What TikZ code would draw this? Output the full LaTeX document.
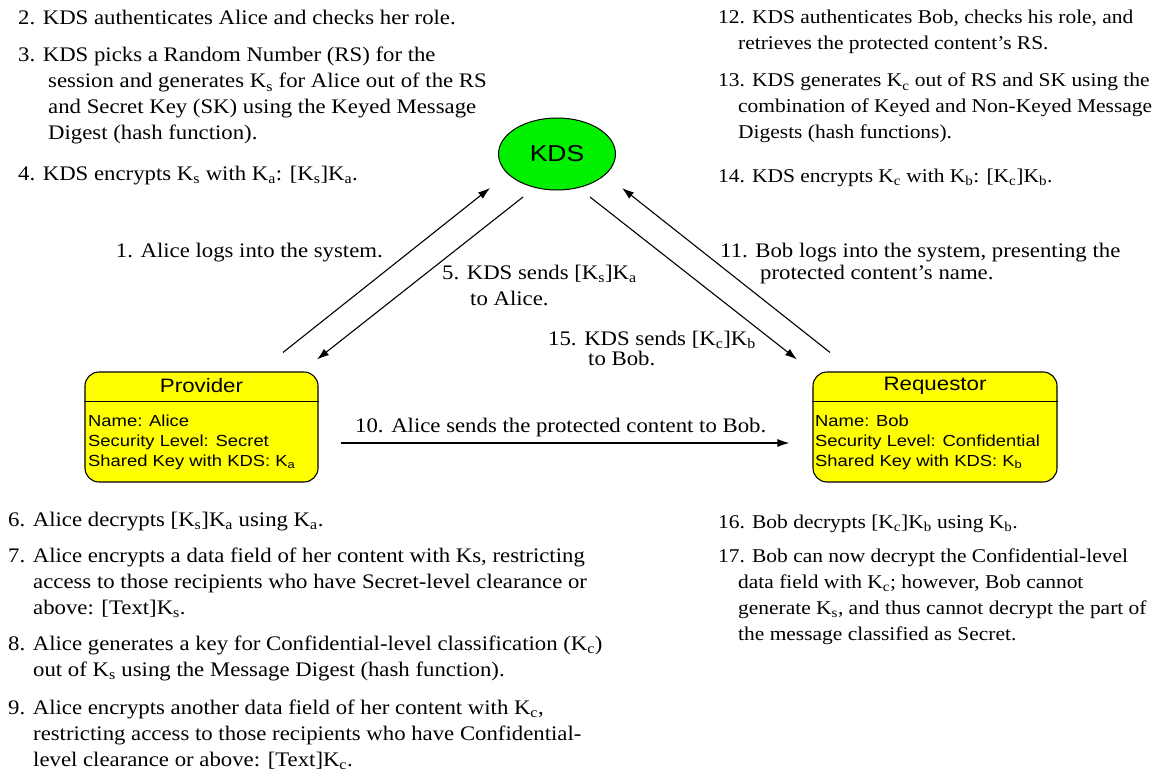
\documentclass[tikz,border=0pt]{standalone}
\usepackage{fontspec}
\setmainfont{Liberation Serif}[FakeStretch=1.1]
\newfontfamily\boxfont{Liberation Sans}[FakeStretch=1.15]
\usetikzlibrary{arrows.meta,shapes.geometric,calc}
\definecolor{kdsgreen}{RGB}{0,240,0}
\definecolor{partyyellow}{RGB}{255,255,0}
\newcommand{\keyof}[1]{K\textsubscript{#1}}
\newcommand{\lines}[1]{\begin{tabular}[t]{@{}l@{}}#1\end{tabular}}
\begin{document}
\begin{tikzpicture}[x=1pt,y=-1pt,
  note/.style={anchor=base west, inner sep=0pt, font=\fontsize{20.7}{26}\selectfont},
  rnote/.style={note, font=\fontsize{19.5}{26}\selectfont},
  conn/.style={line width=1.1pt, -{Latex[length=12pt,width=8pt]}},
  kdsnode/.style={ellipse, draw, line width=1pt, fill=kdsgreen, minimum width=117pt,
    minimum height=72pt, inner sep=0pt, font=\boxfont\fontsize{23}{26}\selectfont},
  party/.style={draw, line width=1.1pt, fill=partyyellow, rounded corners=14pt,
    minimum height=110pt, inner sep=0pt},
  head/.style={inner sep=0pt, font=\boxfont\fontsize{19.4}{22}\selectfont},
  body/.style={anchor=base west, inner sep=0pt, font=\boxfont\fontsize{16}{20}\selectfont},
]
\useasboundingbox (0,0) rectangle (1169,773);

% --- key distribution server and the two parties
\node[kdsnode] (kds) at (557,154) {KDS};

\node[party, minimum width=233pt] (prov) at (201.5,427) {};
\node[head] (provh) at (201.5,386) {Provider};
\draw[line width=1.1pt] ($(prov.north west)+(0,30)$) -- ($(prov.north east)+(0,30)$);
\node[body] (provb) at (88,426) {\lines{Name: Alice\\Security Level: Secret\\Shared Key with KDS: \keyof{a}}};

\node[party, minimum width=244pt] (req) at (935,427) {};
\node[head] (reqh) at (935,386) {Requestor};
\draw[line width=1.1pt] ($(req.north west)+(0,30)$) -- ($(req.north east)+(0,30)$);
\node[body] (reqb) at (815,426) {\lines{Name: Bob\\Security Level: Confidential\\Shared Key with KDS: \keyof{b}}};

% --- message flows
\draw[conn] ($(prov.north)+(81.5,-19)$) -- ($(kds.center)+(-67,34)$);
\draw[conn] ($(kds.center)+(-34,43)$) -- ($(prov.north)+(115.5,-12)$);
\draw[conn] ($(kds.center)+(33,43)$) -- ($(req.north)+(-138,-12)$);
\draw[conn] ($(req.north)+(-105,-19)$) -- ($(kds.center)+(65,34)$);
\draw[conn] ($(prov.east)+(22,16)$) -- ($(req.west)+(-23,16)$);

% --- flow labels
\node[note, anchor=base east] (l1) at (383,257) {1. Alice logs into the system.};
\node[note] (l5) at (442,279) {\lines{5. KDS sends [\keyof{s}]\keyof{a}\\\hspace*{28pt}to Alice.}};
\node[note] (l15) at (548,345) {\lines{15. KDS sends [\keyof{c}]\keyof{b}\\[-6pt]\hspace*{40pt}to Bob.}};
\node[note] (l11) at (720,257) {\lines{11. Bob logs into the system, presenting the\\[-4pt]\hspace*{40pt}protected content's name.}};
\node[note] (l10) at (355,432) {10. Alice sends the protected content to Bob.};

% --- steps performed by the KDS for Alice
\node[note] (s2) at (18,25) {2. KDS authenticates Alice and checks her role.};
\node[note] (s3) at (18,62) {\lines{3. KDS picks a Random Number (RS) for the\\
  \hspace*{30pt}session and generates \keyof{s} for Alice out of the RS\\
  \hspace*{30pt}and Secret Key (SK) using the Keyed Message\\
  \hspace*{30pt}Digest (hash function).}};
\node[note] (s4) at (18,180) {4. KDS encrypts \keyof{s} with \keyof{a}: [\keyof{s}]\keyof{a}.};

% --- steps performed by the KDS for Bob
\node[rnote] (s12) at (718,24) {\lines{12. KDS authenticates Bob, checks his role, and\\
  \hspace*{20pt}retrieves the protected content's RS.}};
\node[rnote] (s13) at (718,87) {\lines{13. KDS generates \keyof{c} out of RS and SK using the\\
  \hspace*{20pt}combination of Keyed and Non-Keyed Message\\
  \hspace*{20pt}Digests (hash functions).}};
\node[rnote] (s14) at (718,182) {14. KDS encrypts \keyof{c} with \keyof{b}: [\keyof{c}]\keyof{b}.};

% --- steps performed by Alice
\node[note] (s6) at (8,526) {6. Alice decrypts [\keyof{s}]\keyof{a} using \keyof{a}.};
\node[note] (s7) at (8,562) {\lines{7. Alice encrypts a data field of her content with Ks, restricting\\
  \hspace*{25pt}access to those recipients who have Secret-level clearance or\\
  \hspace*{25pt}above: [Text]\keyof{s}.}};
\node[note] (s8) at (8,650) {\lines{8. Alice generates a key for Confidential-level classification (\keyof{c})\\
  \hspace*{25pt}out of \keyof{s} using the Message Digest (hash function).}};
\node[note] (s9) at (8,714) {\lines{9. Alice encrypts another data field of her content with \keyof{c},\\
  \hspace*{25pt}restricting access to those recipients who have Confidential-\\
  \hspace*{25pt}level clearance or above: [Text]\keyof{c}.}};

% --- steps performed by Bob
\node[rnote] (s16) at (718,528) {16. Bob decrypts [\keyof{c}]\keyof{b} using \keyof{b}.};
\node[rnote] (s17) at (718,562) {\lines{17. Bob can now decrypt the Confidential-level\\
  \hspace*{20pt}data field with \keyof{c}; however, Bob cannot\\
  \hspace*{20pt}generate \keyof{s}, and thus cannot decrypt the part of\\
  \hspace*{20pt}the message classified as Secret.}};
\end{tikzpicture}
\end{document}
